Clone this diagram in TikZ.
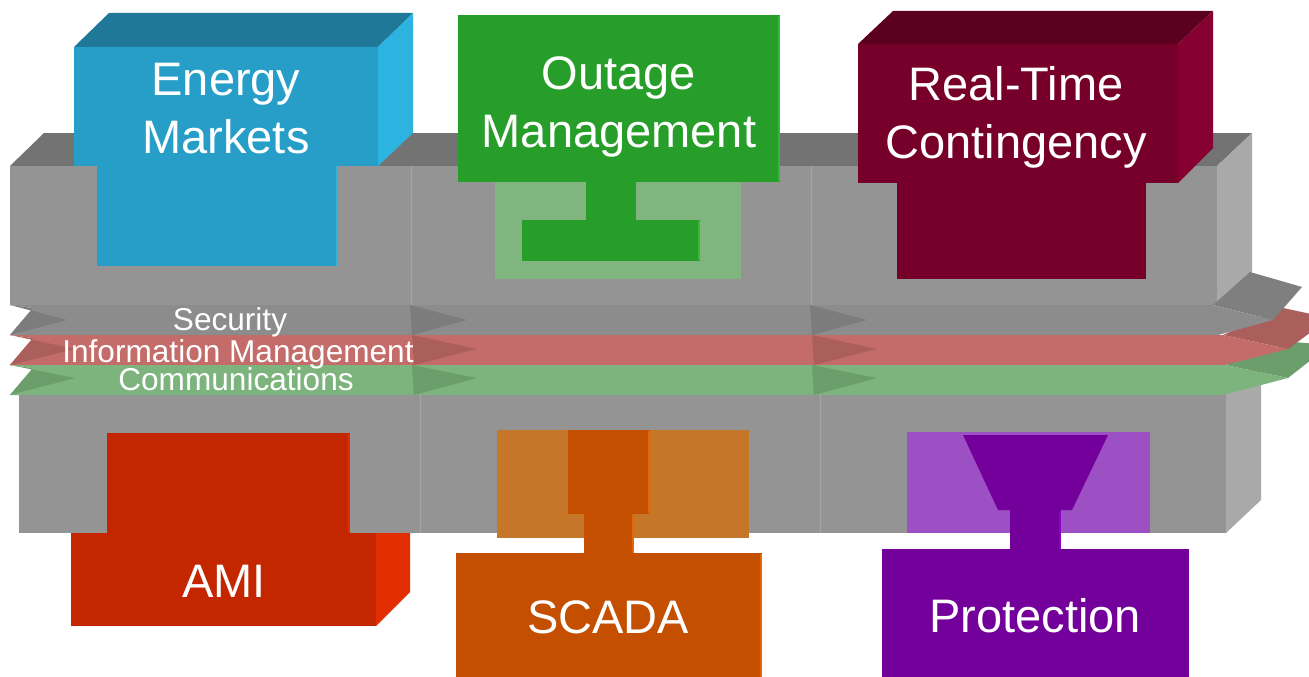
\documentclass[tikz,border=0pt]{standalone}
\usepackage{fontspec}
\setmainfont{Liberation Sans}
% slabs and bands
\definecolor{slabfront}{HTML}{949494}
\definecolor{slabtop}{HTML}{737373}
\definecolor{slabside}{HTML}{A9A9A9}
\definecolor{slabline}{HTML}{A4A4A4}
\definecolor{secband}{HTML}{8C8C8C}
\definecolor{secdark}{HTML}{7C7C7C}
\definecolor{secback}{HTML}{7F7F7F}
\definecolor{infoband}{HTML}{C46C6A}
\definecolor{infodark}{HTML}{AA5F5D}
\definecolor{comband}{HTML}{7DB37D}
\definecolor{comdark}{HTML}{6B9E6B}
% application blocks
\definecolor{emfront}{HTML}{269EC8}
\definecolor{emtop}{HTML}{1F7898}
\definecolor{emside}{HTML}{2DB3E0}
\definecolor{omgreen}{HTML}{289E2A}
\definecolor{omlight}{HTML}{80B580}
\definecolor{omrim}{HTML}{32BC32}
\definecolor{rtfront}{HTML}{76002A}
\definecolor{rttop}{HTML}{5C0020}
\definecolor{rtside}{HTML}{860030}
\definecolor{amifront}{HTML}{C42600}
\definecolor{amiside}{HTML}{E22E00}
\definecolor{scdark}{HTML}{C44F00}
\definecolor{sclight}{HTML}{C67628}
\definecolor{scrim}{HTML}{E86400}
\definecolor{prdark}{HTML}{74009B}
\definecolor{prlight}{HTML}{9C50C3}
\definecolor{prrim}{HTML}{8E00C4}

\begin{document}
\begin{tikzpicture}[x=1pt,y=-1pt,
    big/.style={text=white,font=\fontsize{47}{58}\selectfont,align=center,anchor=base,inner sep=0pt},
    bandtext/.style={text=white,font=\fontsize{31.6}{32}\selectfont,anchor=base,inner sep=0pt},
    rim/.style={line width=2pt}]
  \clip (0,0) rectangle (1309,677);
  \fill[white] (0,0) rectangle (1309,677);

  % upper slab
  \fill[slabtop] (10,166) -- (44,133) -- (1252,133) -- (1217,166) -- cycle;
  \fill[slabside] (1217,166) -- (1252,133) -- (1252,272) -- (1217,305) -- cycle;
  \fill[slabfront] (10,166) rectangle (1217,305);
  \draw[slabline] (411,166) -- (411,305) (811,166) -- (811,305);

  % Energy Markets (base = last line)
  \fill[emfront] (97,166) rectangle (338,266);
  \draw[emside,rim] (337,166) -- (337,266);
  \fill[emtop] (74,47) -- (109,13) -- (413,13) -- (378,47) -- cycle;
  \fill[emside] (378,47) -- (413,13) -- (413,133) -- (378,166) -- cycle;
  \fill[emfront] (74,47) rectangle (378,166);
  \node[big] (energy) at (226,153) {Energy\\Markets};

  % Outage Management
  \fill[omlight] (495,182) rectangle (741,279);
  \fill[omgreen] (586,182) rectangle (636,220);
  \fill[omgreen] (522,220) rectangle (700,261);
  \draw[omrim,rim] (699,221) -- (699,260);
  \fill[omgreen] (458,15) rectangle (780,182);
  \draw[omrim,rim] (779,16) -- (779,181);
  \node[big] (outage) at (619,147) {Outage\\Management};

  % Real-Time Contingency
  \fill[rtfront] (897,183) rectangle (1146,279);
  \fill[rttop] (858,44) -- (893,11) -- (1213,11) -- (1178,44) -- cycle;
  \fill[rtside] (1178,44) -- (1213,11) -- (1213,148) -- (1178,183) -- cycle;
  \fill[rtfront] (858,44) rectangle (1178,183);
  \node[big] (realtime) at (1016,158) {Real-Time\\Contingency};

  % lower slab
  \fill[slabside] (1226,392) -- (1261,360) -- (1261,500) -- (1226,533) -- cycle;
  \fill[slabfront] (19,392) rectangle (1226,533);
  \draw[slabline] (420,395) -- (420,533) (820,395) -- (820,533);

  % bands: back faces, then fronts
  \fill[comdark] (1225,365) -- (1293,342) -- (1330,345) -- (1288,378) -- cycle;
  \fill[infodark] (1223,335) -- (1283,308) -- (1330,318) -- (1288,349) -- cycle;
  \fill[secback] (1213,305) -- (1250,272) -- (1302,287) -- (1273,320) -- cycle;

  \fill[secband] (10,305) -- (1213,305) -- (1273,320) -- (1218,335) -- (10,335) -- (33,308) -- cycle;
  \fill[infoband] (10,335) -- (1223,335) -- (1288,349) -- (1225,365) -- (10,365) -- (33,338) -- cycle;
  \fill[comband] (10,365) -- (1225,365) -- (1288,378) -- (1223,395) -- (10,395) -- (33,368) -- cycle;

  \fill[secdark] (10,305) -- (67,320) -- (10,335) -- (33,308) -- cycle;
  \fill[secdark] (410,305) -- (467,320) -- (412,335) -- cycle;
  \fill[secdark] (810,305) -- (867,320) -- (812,335) -- cycle;
  \foreach \x in {412,812} {
    \fill[infodark] (\x,335) -- (\x+65,349) -- (\x+2,365) -- cycle;
    \fill[comdark] (\x,365) -- (\x+65,378) -- (\x+2,395) -- cycle;
  }
  \fill[infodark] (10,335) -- (75,349) -- (10,365) -- (33,338) -- cycle;
  \fill[comdark] (10,365) -- (75,378) -- (10,395) -- (33,368) -- cycle;

  \node[bandtext] (security) at (230,330) {Security};
  \node[bandtext] (infomgmt) at (238,362) {Information Management};
  \node[bandtext] (comms) at (236,390) {Communications};

  % AMI
  \fill[amifront] (107,433) rectangle (350,533);
  \draw[amiside,rim] (349,434) -- (349,533);
  \fill[amiside] (376,533) -- (410,533) -- (410,592) -- (376,626) -- cycle;
  \fill[amifront] (71,533) rectangle (376,626);
  \node[big] (ami) at (224,597) {AMI};

  % SCADA
  \fill[sclight] (497,430) rectangle (749,538);
  \fill[scdark] (568,430) rectangle (650,514);
  \draw[scrim,rim] (649,431) -- (649,513);
  \fill[scdark] (584,514) rectangle (634,553);
  \draw[scrim,rim] (633,514) -- (633,553);
  \fill[scdark] (456,553) rectangle (762,680);
  \draw[scrim,rim] (761,554) -- (761,680);
  \node[big] (scada) at (608,633) {SCADA};

  % Protection
  \fill[prlight] (907,432) rectangle (1150,533);
  \fill[prdark] (963,435) -- (1108,435) -- (1072,510) -- (998,510) -- cycle;
  \fill[prdark] (1010,510) rectangle (1061,550);
  \draw[prrim,rim] (1060,511) -- (1060,549);
  \fill[prdark] (882,549) rectangle (1189,680);
  \node[big] (protection) at (1035,632) {Protection};
\end{tikzpicture}
\end{document}
